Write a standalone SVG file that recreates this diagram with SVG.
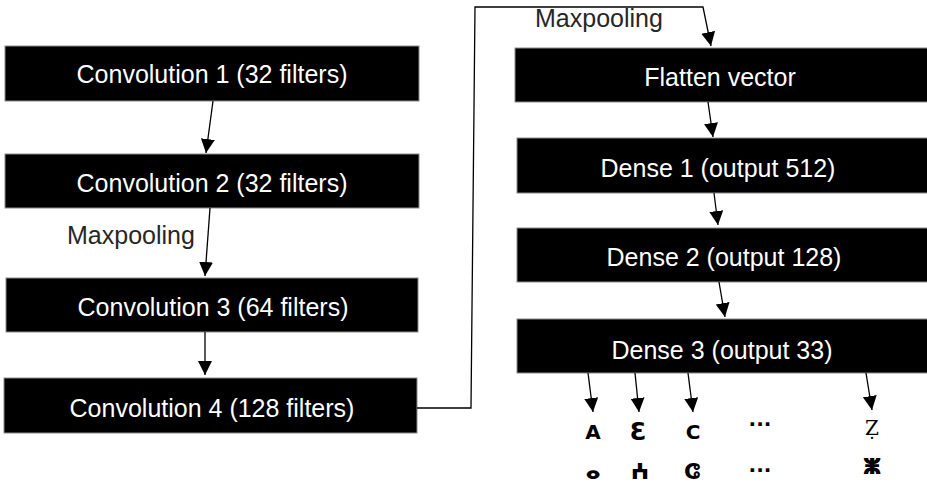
<svg xmlns="http://www.w3.org/2000/svg" width="927" height="486" viewBox="0 0 927 486">
<style>
.box{fill:#000;stroke:#8c8c8c;stroke-width:1}
.lbl{font-family:"Liberation Sans",Arial,sans-serif;font-size:25px;fill:#fff;text-anchor:middle}
.cap{font-family:"Liberation Sans",Arial,sans-serif;font-size:25px;fill:#262626}
.con{fill:none;stroke:#000;stroke-width:1.3}
.lat{font-family:"DejaVu Sans",sans-serif;font-weight:bold;font-size:20px;fill:#000;text-anchor:middle}
.tif{font-family:"DejaVu Sans",sans-serif;font-weight:bold;font-size:22px;fill:#000;text-anchor:middle}
</style>
<defs>
<marker id="ah" markerUnits="userSpaceOnUse" markerWidth="16" markerHeight="16" refX="14" refY="7" orient="auto">
<path d="M0,0 L14,7 L0,14 z" fill="#000"/>
</marker>
</defs>
<g id="conv1"><rect class="box" x="5" y="46" width="414" height="55"/><text class="lbl" x="212" y="83">Convolution 1 (32 filters)</text></g>
<g id="conv2"><rect class="box" x="5" y="154" width="414" height="54"/><text class="lbl" x="212" y="192">Convolution 2 (32 filters)</text></g>
<g id="conv3"><rect class="box" x="6" y="278" width="412" height="54"/><text class="lbl" x="213" y="316">Convolution 3 (64 filters)</text></g>
<g id="conv4"><rect class="box" x="4" y="378" width="413" height="55"/><text class="lbl" x="212" y="417">Convolution 4 (128 filters)</text></g>
<g id="flatten"><rect class="box" x="515" y="48" width="420" height="54"/><text class="lbl" x="720" y="86">Flatten vector</text></g>
<g id="dense1"><rect class="box" x="517" y="138" width="420" height="55"/><text class="lbl" x="718" y="177">Dense 1 (output 512)</text></g>
<g id="dense2"><rect class="box" x="517" y="228" width="420" height="54"/><text class="lbl" x="724" y="266">Dense 2 (output 128)</text></g>
<g id="dense3"><rect class="box" x="517" y="319" width="420" height="54"/><text class="lbl" x="722" y="359">Dense 3 (output 33)</text></g>
<g id="connectors">
<line class="con" x1="213" y1="101" x2="206" y2="153" marker-end="url(#ah)"/>
<line class="con" x1="210" y1="208" x2="205" y2="276" marker-end="url(#ah)"/>
<line class="con" x1="205" y1="332" x2="205" y2="375" marker-end="url(#ah)"/>
<polyline class="con" points="417,408 471,408 475,7 703,7 711,46" marker-end="url(#ah)"/>
<line class="con" x1="708" y1="102" x2="713" y2="137" marker-end="url(#ah)"/>
<line class="con" x1="714" y1="193" x2="718" y2="225" marker-end="url(#ah)"/>
<line class="con" x1="719" y1="282" x2="725" y2="317" marker-end="url(#ah)"/>
<line class="con" x1="588" y1="373" x2="593" y2="412" marker-end="url(#ah)"/>
<line class="con" x1="635" y1="373" x2="639" y2="412" marker-end="url(#ah)"/>
<line class="con" x1="688" y1="373" x2="693" y2="412" marker-end="url(#ah)"/>
<line class="con" x1="866" y1="373" x2="872" y2="410" marker-end="url(#ah)"/>
</g>
<text class="cap" x="67" y="244">Maxpooling</text>
<text class="cap" x="535" y="27">Maxpooling</text>
<g id="outputs">
<text class="lat" x="593" y="439">A</text>
<text class="lat" x="638" y="440" style="font-size:24px">Ɛ</text>
<text class="lat" x="693" y="439">C</text>
<text class="lat" x="760" y="426">...</text>
<text class="lat" x="872" y="435" style="font-family:'DejaVu Serif',serif;font-weight:normal">Ẓ</text>
<text class="tif" x="593" y="479">ⴰ</text>
<text class="tif" x="640" y="479">ⵄ</text>
<text class="tif" x="692" y="479">ⵛ</text>
<text class="lat" x="760" y="472">...</text>
<text class="tif" x="872" y="474">ⵥ</text>
</g>
</svg>
